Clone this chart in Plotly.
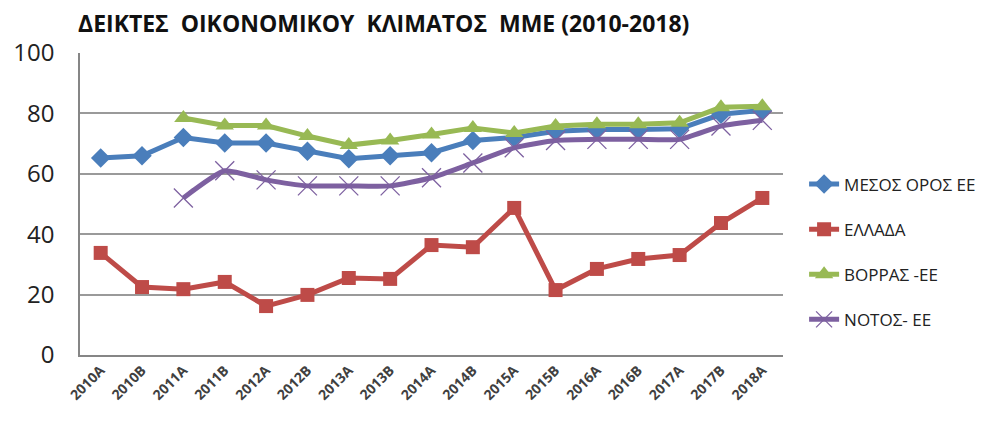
import plotly.graph_objects as go

categories = ["2010A", "2010B", "2011A", "2011B", "2012A", "2012B", "2013A", "2013B",
              "2014A", "2014B", "2015A", "2015B", "2016A", "2016B", "2017A", "2017B", "2018A"]

mesos_oros = [65.2, 66.0, 72.0, 70.2, 70.2, 67.5, 65.0, 66.0, 67.0, 71.0, 72.0, 74.1, 74.7, 74.7, 74.9, 79.7, 81.0]
ellada = [33.8, 22.5, 21.8, 24.2, 16.2, 19.9, 25.5, 25.2, 36.4, 35.7, 48.7, 21.5, 28.5, 31.8, 33.1, 43.7, 52.0]
borras = [None, None, 78.5, 76.0, 76.0, 72.5, 69.5, 71.0, 73.0, 75.2, 73.5, 75.8, 76.4, 76.4, 76.9, 82.0, 82.4]
notos = [None, None, 52.0, 61.0, 58.0, 56.0, 56.0, 56.0, 58.7, 63.6, 68.6, 71.0, 71.4, 71.4, 71.4, 75.8, 77.7]

names = ["ΜΕΣΟΣ ΟΡΟΣ ΕΕ", "ΕΛΛΑΔΑ", "ΒΟΡΡΑΣ -ΕΕ", "ΝΟΤΟΣ- ΕΕ"]
y_ticks = [0, 20, 40, 60, 80, 100]

fig = go.Figure()

fig.add_trace(go.Scatter(
    x=categories, y=mesos_oros, name=names[0], mode="lines+markers", legendgroup="a",
    line=dict(color="#4A7EBB", width=5),
    marker=dict(symbol="diamond", size=15, color="#4A7EBB")))
fig.add_trace(go.Scatter(
    x=categories, y=ellada, name=names[1], mode="lines+markers", legendgroup="b",
    line=dict(color="#BE4B48", width=5),
    marker=dict(symbol="square", size=14, color="#BE4B48")))
fig.add_trace(go.Scatter(
    x=categories, y=borras, name=names[2], mode="lines+markers", legendgroup="c",
    line=dict(color="#98B954", width=5),
    marker=dict(symbol="triangle-up", size=16, color="#98B954")))
fig.add_trace(go.Scatter(
    x=categories, y=notos, name=names[3], mode="lines+markers", legendgroup="d",
    line=dict(color="#7D60A0", width=5, shape="spline", smoothing=0.5),
    marker=dict(symbol="x-thin-open", size=19, line=dict(color="#A08CC8", width=1.3))))

fig.update_layout(
    width=998, height=423,
    margin=dict(l=72, r=223, t=45, b=76),
    paper_bgcolor="white", plot_bgcolor="white",
    font=dict(family="Open Sans, DejaVu Sans, sans-serif", color="#222"),
    title=dict(text="ΔΕΙΚΤΕΣ  ΟΙΚΟΝΟΜΙΚΟΥ  ΚΛΙΜΑΤΟΣ  ΜΜΕ (2010-2018)",
               font=dict(size=23, color="#111", weight="bold"),
               x=70 / 998, xanchor="left", y=1 - 16 / 423, yanchor="middle"),
    showlegend=True,
    legend=dict(x=1.03, xanchor="left", y=(347 - 244) / 302, yanchor="middle",
                font=dict(size=17, color="#222"), tracegroupgap=20,
                bgcolor="rgba(0,0,0,0)"),
    xaxis=dict(type="category", categoryorder="array", categoryarray=categories,
               tickangle=-45, tickfont=dict(size=14, color="#404040", weight="bold"),
               showline=True, linecolor="#868686", linewidth=1.5,
               showgrid=False, ticks="", range=[-0.5, 16.5], automargin=False),
    yaxis=dict(range=[0, 100], tickvals=y_ticks, tickfont=dict(size=24, color="#222"),
               showline=True, linecolor="#868686", linewidth=1.5,
               showgrid=True, gridcolor="#9A9A9A", gridwidth=1.5,
               zeroline=False, ticks="", ticklabelstandoff=19, automargin=False),
)

fig.write_html("out.html")
